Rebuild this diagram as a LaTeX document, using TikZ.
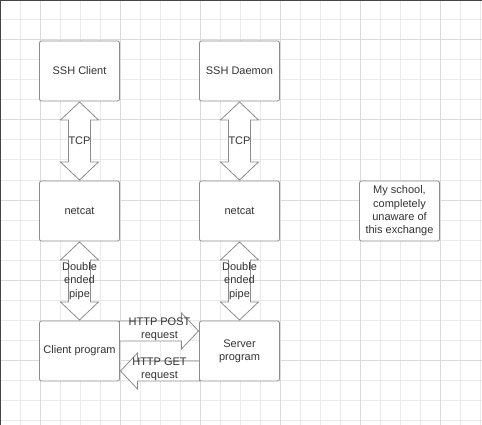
\documentclass[tikz,border=0pt]{standalone}
\usepackage{fontspec}
\setmainfont{Liberation Sans}
\usetikzlibrary{calc}
\definecolor{txt}{HTML}{333333}
\definecolor{edge}{HTML}{8C8C8C}
\definecolor{gridminor}{HTML}{EBEBEB}
\definecolor{gridmajor}{HTML}{DADADA}
\definecolor{frame}{HTML}{444444}
\tikzset{
  box/.style={draw=edge, fill=white, line width=0.8pt, rounded corners=2pt,
    minimum width=80pt, minimum height=60pt, outer sep=0pt, inner sep=2pt,
    align=center, text=txt, font=\fontsize{11}{13.3}\selectfont},
  arrowshape/.style={draw=edge, fill=white, line width=0.8pt, line join=miter},
  lbl/.style={text=txt, align=center, inner sep=0pt, font=\fontsize{11}{13.3}\selectfont},
}
\newcommand\myVArrow[4]{%
  \draw[arrowshape] let \p1=(#1.south), \p2=(#2.north) in
    (\x1,\y1-1pt) -- (\x1+19pt,\y1-19pt) -- (\x1+11pt,\y1-19pt) -- (\x1+11pt,\y2+19pt)
    -- (\x1+19pt,\y2+19pt) -- (\x1,\y2+1pt) -- (\x1-19pt,\y2+19pt) -- (\x1-11pt,\y2+19pt)
    -- (\x1-11pt,\y1-19pt) -- (\x1-19pt,\y1-19pt) -- cycle;
  \node[lbl] (#4) at ($(#1.south)!0.5!(#2.north)$) {#3};
}
\begin{document}
\begin{tikzpicture}[x=1pt,y=-1pt]
\useasboundingbox (0,0) rectangle (482,425);
\fill[white] (0,0) rectangle (482,425);
% grid
\foreach \i in {0,20,...,480} \draw[gridminor, line width=1pt] (\i,0) -- (\i,425);
\foreach \j in {0,20,...,420} \draw[gridminor, line width=1pt] (0,\j) -- (482,\j);
\foreach \i in {40,120,...,440} \draw[gridmajor, line width=1pt] (\i,0) -- (\i,425);
\foreach \j in {40,120,...,360} \draw[gridmajor, line width=1pt] (0,\j) -- (482,\j);
\draw[frame, line width=1pt] (0.5,425) -- (0.5,0.5) -- (482,0.5);
% boxes
\node[box] (sshc) at (79.5,71) {SSH Client};
\node[box] (sshd) at (239.5,71) {SSH Daemon};
\node[box] (ncl) at (79.5,211) {netcat};
\node[box] (ncr) at (239.5,211) {netcat};
\node[box] (cp) at (79.5,351) {Client program};
\node[box] (sp) at (239.5,351) {Server\\program};
\node[box] (school) at (399.5,211) {My school,\\completely\\unaware of\\this exchange};
% vertical double arrows
\myVArrow{sshc}{ncl}{TCP}{tcpl}
\myVArrow{sshd}{ncr}{TCP}{tcpr}
\myVArrow{ncl}{cp}{Double\\ended\\pipe}{pipel}
\myVArrow{ncr}{sp}{Double\\ended\\pipe}{piper}
% HTTP POST
\draw[arrowshape] let \p1=(cp.north east), \p2=(sp.north west) in
  (\x1,\y1) -- (\x2-18pt,\y1) -- (\x2-18pt,\y1+8pt) -- (\x2-1pt,\y1-10pt)
  -- (\x2-18pt,\y1-28pt) -- (\x2-18pt,\y1-20pt) -- (\x1,\y1-20pt) -- cycle;
\node[lbl] (post) at ($(cp.north east)!0.5!(sp.north west)+(0,8.5)$) {HTTP POST\\request};
% HTTP GET
\draw[arrowshape] let \p1=(cp.south east), \p2=(sp.south west) in
  (\x2,\y1) -- (\x1+18pt,\y1) -- (\x1+18pt,\y1-8pt) -- (\x1+1pt,\y1+10pt)
  -- (\x1+18pt,\y1+28pt) -- (\x1+18pt,\y1+20pt) -- (\x2,\y1+20pt) -- cycle;
\node[lbl] (get) at ($(cp.south east)!0.5!(sp.south west)+(0,-11.5)$) {HTTP GET\\request};
\end{tikzpicture}
\end{document}
